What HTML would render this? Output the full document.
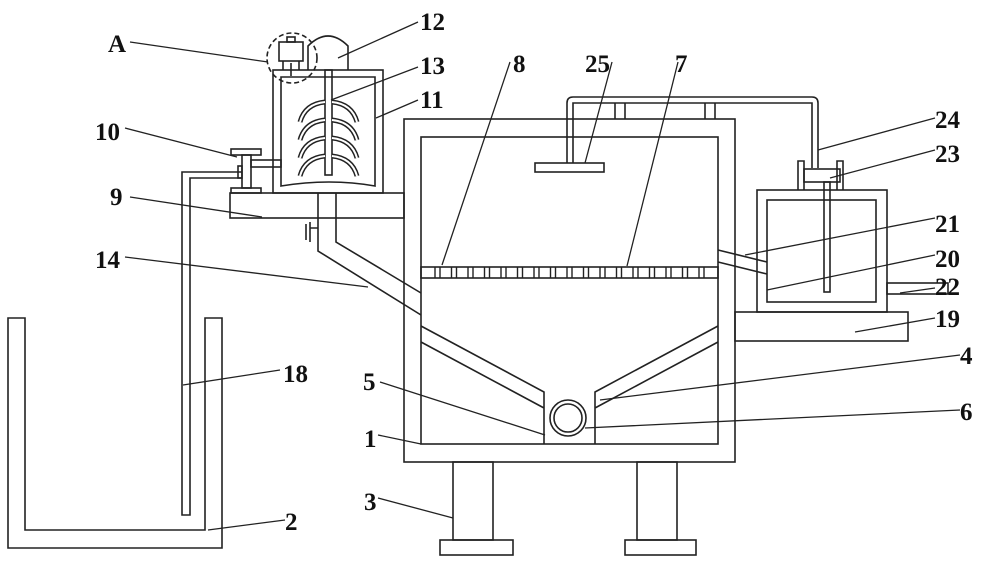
<!DOCTYPE html>
<html><head><style>
html,body{margin:0;padding:0;background:#fff;}
svg{display:block}
text{font-family:"Liberation Serif",serif;font-weight:bold;font-size:25px;fill:#111;}
</style></head><body>
<svg width="1000" height="563" viewBox="0 0 1000 563" xmlns="http://www.w3.org/2000/svg">
<g fill="none" stroke="#222" stroke-width="1.6">
<path d="M8,318 H25 V530 H205 V318 H222 V548 H8 Z"/>
<path d="M242,172 H182 V515 H190 V178 H242"/>
<rect x="231" y="149" width="30" height="6"/>
<rect x="242" y="155" width="9" height="33"/>
<rect x="231" y="188" width="30" height="5"/>
<rect x="251" y="160" width="30" height="7"/>
<rect x="238" y="166" width="4" height="12"/>
<rect x="230" y="193" width="174" height="25"/>
<rect x="273" y="70" width="110" height="123"/>
<path d="M281,77 H375 V186 Q330,178 281,186 Z"/>
<rect x="325" y="70" width="7" height="105"/>
<path d="M300,122 Q305,104 325,102 M300,140 Q305,122 325,120 M300,158 Q305,140 325,138 M300,176 Q305,158 325,156" stroke-width="5"/>
<path d="M300,122 Q305,104 325,102 M300,140 Q305,122 325,120 M300,158 Q305,140 325,138 M300,176 Q305,158 325,156" stroke="#fff" stroke-width="2"/>
<path d="M357,122 Q352,104 332,102 M357,140 Q352,122 332,120 M357,158 Q352,140 332,138 M357,176 Q352,158 332,156" stroke-width="5"/>
<path d="M357,122 Q352,104 332,102 M357,140 Q352,122 332,120 M357,158 Q352,140 332,138 M357,176 Q352,158 332,156" stroke="#fff" stroke-width="2"/>
<path d="M308,70 V46 Q328,26 348,46 V70"/>
<circle cx="292" cy="58" r="25" stroke-dasharray="5,3"/>
<rect x="279" y="42" width="24" height="19"/>
<rect x="287" y="37" width="8" height="5"/>
<path d="M283,61 V70 M299,61 V70 M291,63 V76"/>
<path d="M318,193 V251 L421,315 M336,193 V242 L421,293"/>
<path d="M318,228 H310 M306,224 V240 M310,222 V242"/>
<rect x="404" y="119" width="331" height="343"/>
<rect x="421" y="137" width="297" height="307"/>
<rect x="421" y="267" width="297" height="11"/>
<path d="M421,326 L544,392 V444 M421,342 L544,408 M718,326 L595,392 V444 M718,342 L595,408"/>
<circle cx="568" cy="418" r="18"/>
<circle cx="568" cy="418" r="14"/>
<path d="M567,163 V103 Q567,97 573,97 H812 Q818,97 818,103 V168 M573,163 V103 H812 V168"/>
<path d="M615,103 V119 M625,103 V119 M705,103 V119 M715,103 V119"/>
<rect x="535" y="163" width="69" height="9"/>
<rect x="735" y="312" width="173" height="29"/>
<rect x="757" y="190" width="130" height="122"/>
<rect x="767" y="200" width="109" height="102"/>
<rect x="824" y="182" width="6" height="110"/>
<rect x="804" y="169" width="36" height="13"/>
<path d="M798,190 V161 H804 V190 M843,190 V161 H837 V190"/>
<path d="M718,250 L767,262 M718,262 L767,274"/>
<rect x="887" y="283" width="61" height="11"/>
<rect x="453" y="462" width="40" height="78"/>
<rect x="440" y="540" width="73" height="15"/>
<rect x="637" y="462" width="40" height="78"/>
<rect x="625" y="540" width="71" height="15"/>
</g>
<g stroke="#222" stroke-width="1.4">
<path d="M435,267 V278 M440,267 V278 M451.5,267 V278 M456.5,267 V278 M468,267 V278 M473,267 V278 M484.5,267 V278 M489.5,267 V278 M501,267 V278 M506,267 V278 M517.5,267 V278 M522.5,267 V278 M534,267 V278 M539,267 V278 M550.5,267 V278 M555.5,267 V278 M567,267 V278 M572,267 V278 M583.5,267 V278 M588.5,267 V278 M600,267 V278 M605,267 V278 M616.5,267 V278 M621.5,267 V278 M633,267 V278 M638,267 V278 M649.5,267 V278 M654.5,267 V278 M666,267 V278 M671,267 V278 M682.5,267 V278 M687.5,267 V278 M699,267 V278 M704,267 V278"/>
</g>
<g stroke="#222" stroke-width="1.3">
<path d="M130,42 L268,62 M418,22 L338,58 M418,67 L331,100 M418,100 L376,118 M125,128 L237,157 M130,197 L262,217 M125,257 L368,287 M510,62 L442,265 M612,62 L585,163 M678,62 L627,266 M935,118 L818,150 M935,150 L830,178 M935,218 L745,255 M935,255 L767,290 M935,288 L900,293 M935,318 L855,332 M960,355 L600,400 M960,410 L585,428 M280,370 L183,385 M380,382 L545,435 M378,435 L421,444 M378,498 L453,518 M285,520 L208,530"/>
</g>
<text x="108" y="52">A</text>
<text x="420" y="30">12</text>
<text x="420" y="74">13</text>
<text x="420" y="108">11</text>
<text x="95" y="140">10</text>
<text x="110" y="205">9</text>
<text x="95" y="268">14</text>
<text x="513" y="72">8</text>
<text x="585" y="72">25</text>
<text x="675" y="72">7</text>
<text x="935" y="128">24</text>
<text x="935" y="162">23</text>
<text x="935" y="232">21</text>
<text x="935" y="267">20</text>
<text x="935" y="295">22</text>
<text x="935" y="327">19</text>
<text x="960" y="364">4</text>
<text x="960" y="420">6</text>
<text x="283" y="382">18</text>
<text x="363" y="390">5</text>
<text x="364" y="447">1</text>
<text x="364" y="510">3</text>
<text x="285" y="530">2</text>
</svg>
</body></html>
